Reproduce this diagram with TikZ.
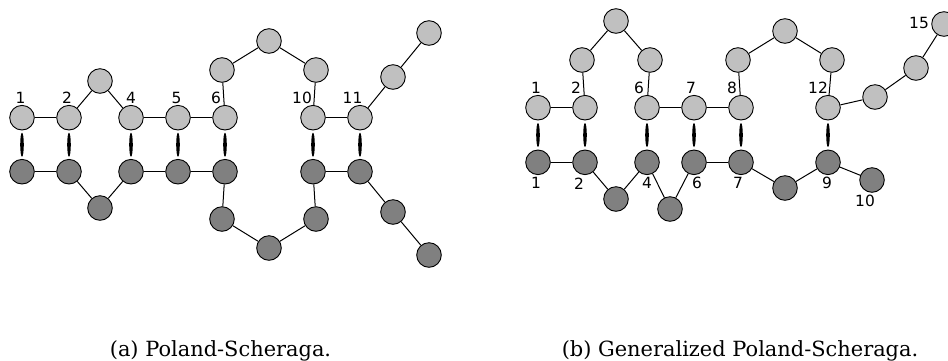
\documentclass[tikz,border=0pt]{standalone}
\usepackage{fontspec}
\usepackage{xcolor}
\usetikzlibrary{shapes.geometric}
\setmainfont{DejaVu Serif}
\newfontfamily\numfont{DejaVu Sans}
\definecolor{basehigh}{HTML}{C0C0C0}
\definecolor{baselow}{HTML}{808080}

\begin{document}
\begin{tikzpicture}[x=1bp, y=-1bp,
    upbase/.style={draw, circle, line width=0.9bp, fill=basehigh, minimum size=24.6bp, inner sep=0pt},
    downbase/.style={draw, circle, line width=0.9bp, fill=baselow, minimum size=24.6bp, inner sep=0pt},
    pairing/.style={ellipse, fill=black, minimum width=3.6bp, minimum height=24bp, inner sep=0pt},
    idx/.style={inner sep=0pt, font=\numfont\fontsize{15.5}{18}\selectfont},
    chain/.style={line width=1bp}]
    \useasboundingbox (0,0) rectangle (948,360);

    % (a) Poland-Scheraga
    \foreach \n/\x/\y in {1/22/117.7, 2/69/117.7, 3/100/81, 4/131/117.7, 5/178/117.7, 6/225/117.7,
                          7/222/70, 8/269/41, 9/316/70, 10/313/117.7, 11/360/117.7, 12/393/77, 13/429/33} {
        \node[upbase] (aL\n) at (\x,\y) {};
    }
    \foreach \n/\x/\y in {1/22/171.7, 2/69/171.7, 3/100/208, 4/131/171.7, 5/178/171.7, 6/225/171.7,
                          7/222/219, 8/269/248, 9/316/219, 10/313/171.7, 11/360/171.7, 12/393/212, 13/429/255} {
        \node[downbase] (aD\n) at (\x,\y) {};
    }
    \foreach \a/\b in {1/2, 2/3, 3/4, 4/5, 5/6, 6/7, 7/8, 8/9, 9/10, 10/11, 11/12, 12/13} {
        \draw[chain] (aL\a) -- (aL\b);
        \draw[chain] (aD\a) -- (aD\b);
    }
    \foreach \n in {1, 2, 4, 5, 6, 10, 11} {
        \path (aL\n) -- node[pairing] (aP\n) {} (aD\n);
    }
    \foreach \n/\x in {1/20.5, 2/67, 4/131, 5/176.5, 6/216, 10/302, 11/352.5} {
        \node[idx] (aI\n) at (\x,97.7) {\n};
    }
    \node[font=\fontsize{21}{24}\selectfont, anchor=base] (capa) at (220.5,356) {(a) Poland-Scheraga.};

    % (b) Generalized Poland-Scheraga
    \foreach \n/\x/\y in {1/538/107.7, 2/585/107.7, 3/582/60, 4/616/21, 5/650/60, 6/647/107.7, 7/694/107.7, 8/741/107.7,
                          9/738/60, 10/785/31, 11/832/60, 12/828/107.7, 13/875/97, 14/916/68, 15/944/24} {
        \node[upbase] (bL\n) at (\x,\y) {};
    }
    \foreach \n/\x/\y in {1/538/162.3, 2/585/162.3, 3/616/199, 4/647/162.3, 5/670/209, 6/694/162.3, 7/741/162.3,
                          8/785/188, 9/828/162.3, 10/872/180} {
        \node[downbase] (bD\n) at (\x,\y) {};
    }
    \foreach \a/\b in {1/2, 2/3, 3/4, 4/5, 5/6, 6/7, 7/8, 8/9, 9/10, 10/11, 11/12, 12/13, 13/14, 14/15} {
        \draw[chain] (bL\a) -- (bL\b);
    }
    \foreach \a/\b in {1/2, 2/3, 3/4, 4/5, 5/6, 6/7, 7/8, 8/9, 9/10} {
        \draw[chain] (bD\a) -- (bD\b);
    }
    \foreach \u/\d in {1/1, 2/2, 6/4, 7/6, 8/7, 12/9} {
        \path (bL\u) -- node[pairing] (bP\u) {} (bD\d);
    }
    \foreach \n/\x/\y in {1/536/87.7, 2/576/87.7, 6/639/87.7, 7/691/87.7, 8/732/87.7, 12/818/87.7, 15/919/23} {
        \node[idx] (bI\n) at (\x,\y) {\n};
    }
    \foreach \n/\x/\y in {1/536/183.3, 2/579/183.3, 4/647/183.3, 6/697/183.3, 7/738/183.3, 9/827/183.3, 10/865/201} {
        \node[idx] (bJ\n) at (\x,\y) {\n};
    }
    \node[font=\fontsize{21}{24}\selectfont, anchor=base] (capb) at (740,356) {(b) Generalized Poland-Scheraga.};
\end{tikzpicture}
\end{document}
